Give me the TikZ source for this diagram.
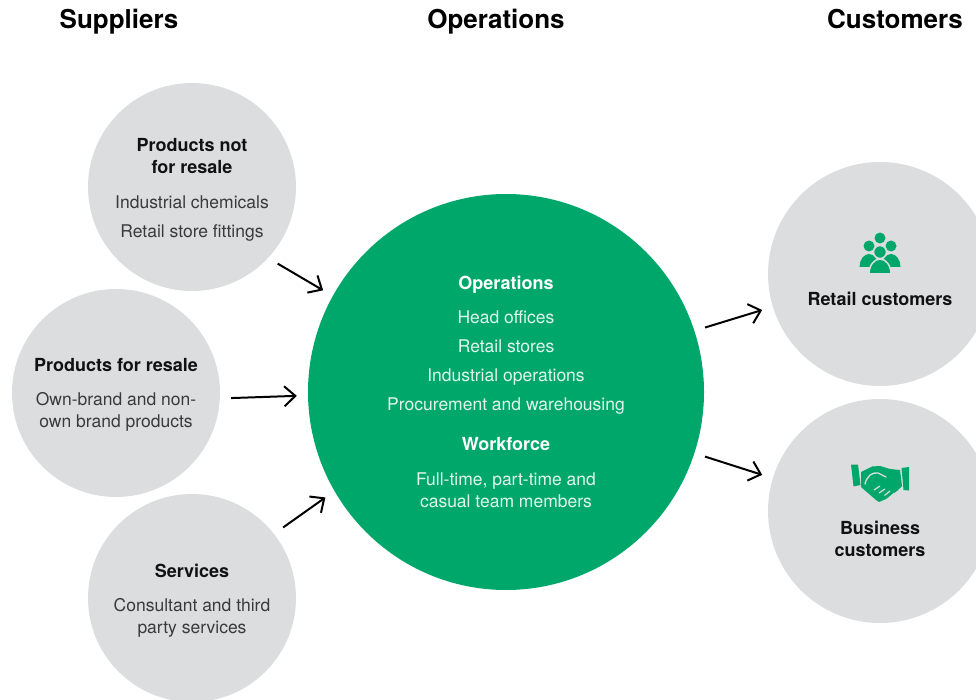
\documentclass[tikz,border=0pt]{standalone}
\usepackage{fontspec}
\setmainfont{TeX Gyre Heros}
\usetikzlibrary{arrows.meta}
\definecolor{bubblegrey}{HTML}{DCDDDF}
\definecolor{opsgreen}{HTML}{00A76B}
\definecolor{inkgrey}{HTML}{3A3A3A}
\definecolor{titleink}{HTML}{111111}
\newcommand{\bhead}[2][titleink]{{\fontsize{18}{22}\selectfont\bfseries\color{#1}#2}}

\begin{document}
\begin{tikzpicture}[x=1pt,y=-1pt,
  bubble/.style={circle,fill=bubblegrey,inner sep=0pt,minimum size=208pt},
  core/.style={circle,fill=opsgreen,inner sep=0pt,minimum size=396pt,align=center,text=white!88!opsgreen,font=\fontsize{17.5}{22}\selectfont},
  heading/.style={anchor=base,font=\fontsize{26}{30}\selectfont\bfseries},
  caption/.style={align=center,inner sep=0pt,text=inkgrey,font=\fontsize{17.5}{22}\selectfont},
  flow/.style={-{Straight Barb[length=11pt,width=20pt]},line width=2pt,shorten <=11pt,shorten >=11pt}]
		\clip (0,0) rectangle (976,700);
		\node[heading] (h_s) at (119,29) {Suppliers};
		\node[heading] (h_o) at (496,29) {Operations};
		\node[heading] (h_c) at (895,29) {Customers};
		% suppliers
		\node[bubble] (s_1) at (192,187) {};
		\node[bubble] (s_2) at (116,393) {};
		\node[bubble] (s_3) at (192,598) {};
		\node[caption] (s_1t) at (192,190) {\bhead{Products not}\\\bhead{for resale}\\[13pt] Industrial chemicals\\[7pt] Retail store fittings};
		\node[caption] (s_2t) at (116,395) {\bhead{Products for resale}\\[12pt] Own-brand and non-\\own brand products};
		\node[caption] (s_3t) at (192,601) {\bhead{Services}\\[12pt] Consultant and third\\party services};
		% operations
		\node[core] (op) at (506,392) {\bhead[white]{Operations}\\[12pt] Head offices\\[7pt] Retail stores\\[7pt] Industrial operations\\[7pt] Procurement and warehousing\\[18pt] \bhead[white]{Workforce}\\[13pt] Full-time, part-time and\\casual team members};
		% customers
		\node[bubble,minimum size=224pt] (c_1) at (880,274) {};
		\node[bubble,minimum size=224pt] (c_2) at (880,511) {};
		\node[caption] (c_1t) at (880,299) {\bhead{Retail customers}};
		\node[caption] (c_2t) at (880,539) {\bhead{Business}\\\bhead{customers}};
		% people icon
		\fill[opsgreen] (880,238) circle[radius=5.5];
		\fill[opsgreen] (869,246) circle[radius=5.5] (891,246) circle[radius=5.5];
		\fill[opsgreen] (859.5,267) arc[start angle=180,end angle=360,x radius=9.5,y radius=13];
		\fill[opsgreen] (881.5,267) arc[start angle=180,end angle=360,x radius=9.5,y radius=13];
		\filldraw[opsgreen,draw=bubblegrey,line width=1.5pt] (880,252) circle[radius=6.5];
		\filldraw[opsgreen,draw=bubblegrey,line width=1.5pt] (869,274) arc[start angle=180,end angle=360,x radius=11,y radius=15] -- cycle;
		% handshake icon
		\fill[opsgreen] (851,464.5) -- (858,464.5) -- (860.5,485) -- (853.5,486.5) -- cycle;
		\fill[opsgreen] (901.5,468) -- (909,467) -- (909,490.5) -- (903.5,490) -- cycle;
		\fill[opsgreen] (861,472) -- (872,466.5) -- (880,466) -- (890,469) -- (900,470) -- (902,486) -- (897,491) -- (886,499) -- (879,502) -- (876,500) -- (861,487) -- cycle;
		\draw[bubblegrey,line width=1.3pt,line cap=round] (865,484) .. controls (867,476) and (872,472) .. (878,473) -- (886,477);
		\draw[bubblegrey,line width=1.2pt] (879,493) -- (885,489) (884.5,495.5) -- (890,491) (889.5,497.5) -- (894.5,493) (874,490) -- (880,486);
		% flows
		\draw[flow] (s_1.-43) -- (op.151.5);
		\draw[flow] (s_2.-3) -- (op.181.6);
		\draw[flow] (s_3.38.7) -- (op.210.7);
		\draw[flow] (op.18.3) -- (c_1.197.4);
		\draw[flow] (op.-18.5) -- (c_2.163);
	\end{tikzpicture}
\end{document}
